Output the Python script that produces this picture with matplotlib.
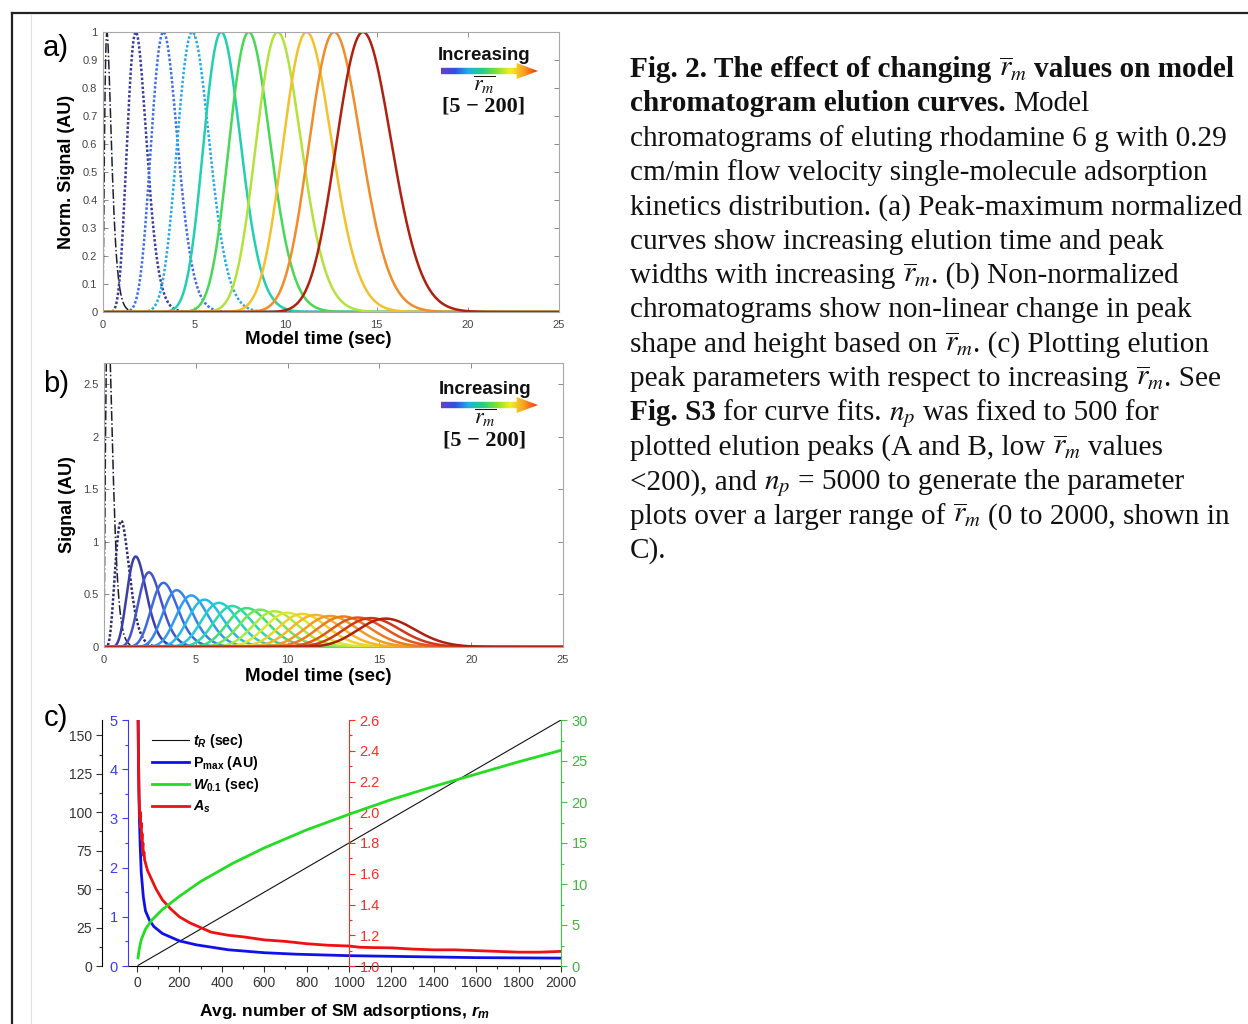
import numpy as np
import matplotlib
matplotlib.use('Agg')
import matplotlib.pyplot as plt
from matplotlib.colors import LinearSegmentedColormap
from matplotlib.patches import Polygon
from matplotlib.lines import Line2D
from matplotlib.ticker import AutoMinorLocator, MultipleLocator, FuncFormatter
from matplotlib.font_manager import FontProperties

plt.rcParams['font.family'] = ['Liberation Sans', 'DejaVu Sans']
plt.rcParams['mathtext.fontset'] = 'custom'
plt.rcParams['mathtext.rm'] = 'Liberation Sans:bold'
plt.rcParams['mathtext.it'] = 'Liberation Sans:italic:bold'
plt.rcParams['mathtext.bf'] = 'Liberation Sans:bold'

# ---- data ----
# (a) peak-normalized model chromatograms, r_m values 5..200
rm_a = [5, 27, 48, 70, 92, 113, 135, 157, 178, 200]
# (b) non-normalized chromatograms: r_m values and peak heights (AU)
rm_b = [5, 15, 26, 36, 47, 57, 68, 78, 89, 99, 110, 120, 131, 141, 152, 162, 173, 183, 194, 204, 215]
peak_b = [3.2, 1.2, 0.86, 0.71, 0.61, 0.54, 0.49, 0.45, 0.42, 0.39, 0.37, 0.355, 0.34,
          0.325, 0.315, 0.305, 0.295, 0.29, 0.28, 0.275, 0.27]
tau = 0.072  # mean sojourn time per adsorption (sec), from the peak positions

# (c) elution peak parameters vs r_m
rm_tr = [5, 2000]
t_r = [0.4, 160]
rm_p = [5, 7, 9, 12, 15, 20, 30, 40, 60, 80, 120, 200, 280, 430, 600, 750, 1000, 1300, 1600, 2000]
p_max = [5.3, 4.3, 3.5, 2.9, 2.45, 1.9, 1.4, 1.12, 0.92, 0.8, 0.66, 0.51, 0.43, 0.33, 0.27,
         0.24, 0.21, 0.19, 0.17, 0.16]
rm_w = [5, 10, 20, 40, 70, 120, 200, 300, 450, 600, 800, 1000, 1200, 1400, 1600, 1800, 2000]
w_01 = [1.0, 2.0, 3.2, 4.5, 5.6, 6.9, 8.5, 10.3, 12.5, 14.4, 16.6, 18.5, 20.3, 21.9, 23.4, 24.9, 26.3]
rm_as = [4, 6, 8, 10, 12, 14, 16, 18, 20, 22, 24, 26, 28, 30, 33, 36, 40, 50, 70, 90, 120, 160,
         200, 250, 300, 350, 430, 500, 600, 700, 800, 900, 1000, 1050, 1100, 1200, 1300, 1400,
         1500, 1600, 1700, 1800, 1900, 2000]
a_s = [2.7, 2.45, 2.25, 2.1, 2.02, 1.96, 2.0, 1.9, 1.93, 1.82, 1.86, 1.76, 1.8, 1.72, 1.74, 1.69,
       1.67, 1.62, 1.56, 1.5, 1.43, 1.37, 1.32, 1.28, 1.25, 1.22, 1.2, 1.19, 1.17, 1.16, 1.145,
       1.135, 1.13, 1.122, 1.12, 1.118, 1.11, 1.105, 1.105, 1.1, 1.095, 1.09, 1.09, 1.095]

W, H = 1248, 1024
fig = plt.figure(figsize=(W / 100, H / 100), dpi=100)


def fbox(l, t, r, b):
    return [l / W, 1 - b / H, (r - l) / W, (b - t) / H]


def peak_shape(t, rm):
    # gamma-shaped elution peak (tailing), normalized to a maximum of 1
    m = (rm - 2) * tau
    th = 2.2 * tau
    k = m / th + 1
    y = np.zeros_like(t)
    pos = t > 0
    y[pos] = np.exp((k - 1) * np.log(t[pos] / m) - (t[pos] - m) / th)
    return y


peak_colors = ['#202030', '#3c3ca0', '#3f6ee8', '#25aae8', '#22cfb0', '#48d858',
               '#b4e23c', '#f2c22e', '#f28c2a', '#b0200e']
cmap_b = LinearSegmentedColormap.from_list(
    'chrom_b', ['#1c1c2a', '#343494', '#4650c8', '#3a6ee6', '#2e96f0', '#24bde8', '#22d6c0',
                '#3ade7a', '#8ce848', '#d8ec30', '#f4cc28', '#f4a424', '#ee7420', '#dc4418',
                '#b0200e'])
arrow_cmap = LinearSegmentedColormap.from_list(
    'arr', ['#6a40c8', '#3050e0', '#20b0e8', '#20d080', '#80e030', '#f0f020', '#f8a020', '#f03010'])

t = np.arange(0, 25.001, 0.02)


def style_matlab(ax):
    for s in ax.spines.values():
        s.set_color('#a8a8a8')
        s.set_linewidth(0.8)
    ax.tick_params(direction='in', top=True, right=True, length=3.5, width=0.7,
                   color='#8a8a8a', labelcolor='#454545', labelsize=8)
    ax.tick_params(axis='x', pad=6)
    ax.tick_params(axis='y', pad=4)
    ax.xaxis.set_major_formatter(FuncFormatter(lambda v, p: f'{v:g}'))
    ax.yaxis.set_major_formatter(FuncFormatter(lambda v, p: f'{v:g}'))


def increasing_label(cx, y_inc, y_arr, y_rm, y_rng):
    fig.text(cx / W, 1 - y_inc / H, 'Increasing', ha='center', va='center',
             fontsize=13.4, fontweight='bold', color='#111111')
    axr = fig.add_axes(fbox(441, y_arr - 8, 538, y_arr + 8))
    axr.axis('off')
    im = axr.imshow(np.linspace(0, 1, 256)[None, :], aspect='auto', cmap=arrow_cmap,
                    extent=[0, 1, 0, 1])
    poly = Polygon([(0, 0.3), (0.78, 0.3), (0.78, 0), (1, 0.5), (0.78, 1), (0.78, 0.7), (0, 0.7)],
                   closed=True, transform=axr.transAxes, facecolor='none', edgecolor='none')
    axr.add_patch(poly)
    im.set_clip_path(poly)
    axr.set_xlim(0, 1)
    axr.set_ylim(0, 1)
    fig.text(cx / W, 1 - y_rm / H, r'$\overline{r_m}$', ha='center', va='center',
             fontsize=16, math_fontfamily='stix', color='#111111')
    fig.text(cx / W, 1 - y_rng / H, '[5 \u2212 200]', ha='center', va='center',
             fontsize=16, fontweight='bold', family='Liberation Serif', color='#111111')


# ---- panel a ----
ax_a = fig.add_axes(fbox(103, 32, 559, 312))
styles_a = ['-.', (0, (1, 0.8)), (0, (1, 0.8)), (0, (1, 0.8)), '-', '-', '-', '-', '-', '-']
for i, rm in enumerate(rm_a):
    lw = 1.1 if i == 0 else 1.8
    ax_a.plot(t, peak_shape(t, rm), color=peak_colors[i], ls=styles_a[i], lw=lw)
ax_a.set_xlim(0, 25)
ax_a.set_ylim(0, 1)
ax_a.set_xticks(range(0, 26, 5))
ax_a.set_yticks(np.round(np.arange(0, 1.01, 0.1), 1))
style_matlab(ax_a)
ax_a.set_xlabel('Model time (sec)', fontsize=13.5, fontweight='bold')
ax_a.xaxis.set_label_coords((318.5 - 103) / 456, -(331 - 312) / 280)
ax_a.set_ylabel('Norm. Signal (AU)', fontsize=13, fontweight='bold', labelpad=5)
increasing_label(484, 55, 71, 85, 106)

# ---- panel b ----
ax_b = fig.add_axes(fbox(104, 363, 563, 647))
n_b = len(rm_b)
for i, (rm, h) in enumerate(zip(rm_b, peak_b)):
    ls = '-.' if i == 0 else ((0, (1, 0.8)) if i == 1 else '-')
    lw = 1.1 if i == 0 else 1.8
    ax_b.plot(t, h * peak_shape(t, rm), color=cmap_b(i / (n_b - 1)), ls=ls, lw=lw)
ax_b.set_xlim(0, 25)
ax_b.set_ylim(0, 2.7)
ax_b.set_xticks(range(0, 26, 5))
ax_b.set_yticks(np.arange(0, 2.6, 0.5))
style_matlab(ax_b)
ax_b.set_xlabel('Model time (sec)', fontsize=13.5, fontweight='bold')
ax_b.xaxis.set_label_coords((318.5 - 104) / 459, -(668 - 647) / 284)
ax_b.set_ylabel('Signal (AU)', fontsize=13, fontweight='bold', labelpad=5)
increasing_label(485, 390, 405, 418, 440)

# ---- panel c ----
x_lo = -42.45
ax_c = fig.add_axes(fbox(128, 720, 561, 966))
ax_c.set_xlim(x_lo, 2000)
ax_c.set_ylim(0, 160)
ax_c.spines['top'].set_visible(False)
ax_c.spines['right'].set_visible(False)
ax_c.spines['left'].set_position(('outward', 18.5))
ax_c.set_xticks(range(0, 2001, 200))
ax_c.xaxis.set_minor_locator(MultipleLocator(100))
ax_c.set_yticks(range(0, 151, 25))
ax_c.yaxis.set_minor_locator(MultipleLocator(12.5))
ax_c.tick_params(which='both', direction='out', width=0.8, color='#333333',
                 labelcolor='#333333', labelsize=10)
ax_c.tick_params(which='major', length=4)
ax_c.tick_params(which='minor', length=2.5)
ax_c.set_xlabel(r'Avg. number of SM adsorptions, $r_m$', fontsize=12.5,
                fontweight='bold', labelpad=8)

ax_bl = ax_c.twinx()
ax_rd = ax_c.twinx()
ax_gr = ax_c.twinx()
for a in (ax_bl, ax_rd, ax_gr):
    for s in a.spines.values():
        s.set_visible(False)

ax_bl.yaxis.tick_left()
ax_bl.spines['left'].set_visible(True)
ax_bl.spines['left'].set_color('#3a3aff')
ax_bl.set_ylim(0, 5)
ax_bl.set_yticks(range(0, 6))
ax_bl.yaxis.set_minor_locator(AutoMinorLocator(2))

ax_rd.spines['right'].set_visible(True)
ax_rd.spines['right'].set_position(('axes', (1000 - x_lo) / (2000 - x_lo)))
ax_rd.spines['right'].set_color('#ff2a2a')
ax_rd.set_ylim(1.0, 2.6)
ax_rd.set_yticks(np.round(np.arange(1.0, 2.61, 0.2), 1))
ax_rd.yaxis.set_major_formatter(FuncFormatter(lambda v, p: f'{v:.1f}'))
ax_rd.yaxis.set_minor_locator(AutoMinorLocator(2))

ax_gr.spines['right'].set_visible(True)
ax_gr.spines['right'].set_color('#44c444')
ax_gr.set_ylim(0, 30)
ax_gr.set_yticks(range(0, 31, 5))
ax_gr.yaxis.set_minor_locator(AutoMinorLocator(2))

for a, c, lc in ((ax_bl, '#3a3aff', '#3a3aff'), (ax_rd, '#ff2a2a', '#ff2a2a'),
                 (ax_gr, '#44c444', '#44b444')):
    a.tick_params(which='both', direction='out', width=0.8, color=c, labelcolor=lc,
                  labelsize=10.5)
    a.tick_params(which='major', length=4)
    a.tick_params(which='minor', length=2.5)

h1, = ax_c.plot(rm_tr, t_r, color='#111111', lw=0.8, label=r'$t_R$ (sec)')
h2, = ax_bl.plot(rm_p, p_max, color='#1010ea', lw=2.0, label=r'P$_{\rm max}$ (AU)')
h3, = ax_gr.plot(rm_w, w_01, color='#22dd22', lw=2.0, label=r'$W_{\mathit{0.1}}$ (sec)')
h4, = ax_rd.plot(rm_as, a_s, color='#ee1111', lw=2.0, label=r'$A_s$')
ax_gr.legend(handles=[h1, h2, h3, h4], loc='upper left', bbox_to_anchor=(0.025, 1.005),
             frameon=False, handlelength=2.6, handletextpad=0.3, labelspacing=0.3,
             prop=FontProperties(family='Liberation Sans', weight='bold', size=10.3))

# ---- panel letters ----
for lab, y in (('a)', 48), ('b)', 384), ('c)', 718)):
    fig.text(56 / W, 1 - y / H, lab, fontsize=21, ha='center', va='center')

# ---- frame lines ----
fig.add_artist(Line2D([12 / W, 1], [1 - 13 / H, 1 - 13 / H], color='#222222', lw=1.6,
                      transform=fig.transFigure))
fig.add_artist(Line2D([12 / W, 12 / W], [0, 1 - 13 / H], color='#222222', lw=1.6,
                      transform=fig.transFigure))
fig.add_artist(Line2D([31 / W, 31 / W], [0, 1 - 15 / H], color='#e2e2e2', lw=0.8,
                      transform=fig.transFigure))

# ---- caption ----
rbar = r'$\overline{r}_m$'
cap_lines = [
    [('Fig. 2. The effect of changing ', 'bold'), (rbar, 'normal'), (' values on model', 'bold')],
    [('chromatogram elution curves.', 'bold'), (' Model', 'normal')],
    [('chromatograms of eluting rhodamine 6 g with 0.29', 'normal')],
    [('cm/min flow velocity single-molecule adsorption', 'normal')],
    [('kinetics distribution. (a) Peak-maximum normalized', 'normal')],
    [('curves show increasing elution time and peak', 'normal')],
    [('widths with increasing ', 'normal'), (rbar, 'normal'), ('. (b) Non-normalized', 'normal')],
    [('chromatograms show non-linear change in peak', 'normal')],
    [('shape and height based on ', 'normal'), (rbar, 'normal'), ('. (c) Plotting elution', 'normal')],
    [('peak parameters with respect to increasing ', 'normal'), (rbar, 'normal'), ('. See', 'normal')],
    [('Fig. S3', 'bold'), (' for curve fits. ', 'normal'), (r'$n_p$', 'normal'),
     (' was fixed to 500 for', 'normal')],
    [('plotted elution peaks (A and B, low ', 'normal'), (rbar, 'normal'), (' values', 'normal')],
    [('<200), and ', 'normal'), (r'$n_p$', 'normal'), (' = 5000 to generate the parameter', 'normal')],
    [('plots over a larger range of ', 'normal'), (rbar, 'normal'),
     (' (0 to 2000, shown in', 'normal')],
    [('C).', 'normal')],
]
cap_size = 21.1
renderer = fig.canvas.get_renderer()


def txt(x, y, s, w):
    return fig.text(x / W, 1 - y / H, s, fontsize=cap_size, fontweight=w,
                    family='Liberation Serif', math_fontfamily='stix', va='baseline',
                    ha='left', color='#111111')


space_w = {}
for w in ('normal', 'bold'):
    a1 = txt(0, -100, 'x x', w)
    a2 = txt(0, -100, 'xx', w)
    space_w[w] = a1.get_window_extent(renderer).width - a2.get_window_extent(renderer).width
    a1.remove()
    a2.remove()

for i, runs in enumerate(cap_lines):
    x = 630
    y = 77 + 34.35 * i
    for s, w in runs:
        lead = len(s) - len(s.lstrip(' '))
        trail = len(s) - len(s.rstrip(' '))
        x += lead * space_w[w]
        tt = txt(x, y, s.strip(' '), w)
        x += tt.get_window_extent(renderer).width + trail * space_w[w]

fig.savefig('out.png', dpi=100)
